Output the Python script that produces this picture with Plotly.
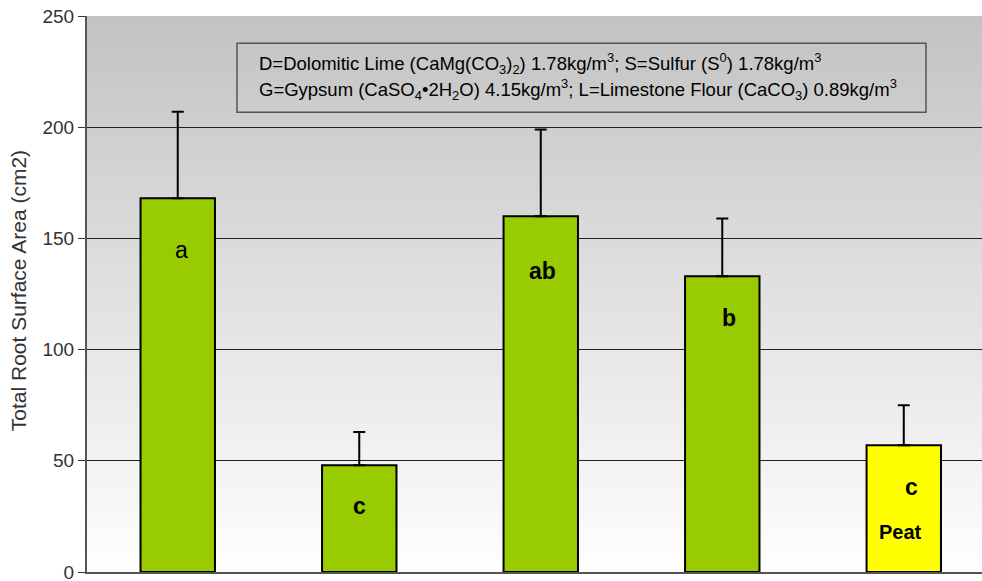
import plotly.graph_objects as go

categories = ["D", "S", "G", "L", "Peat"]
means = [168, 48, 160, 133, 57]
err_up = [39, 15, 39, 26, 18]
letters = ["a", "c", "ab", "b", "c"]
bar_colors = ["#99cc00", "#99cc00", "#99cc00", "#99cc00", "#ffff00"]
y_ticks = [0, 50, 100, 150, 200, 250]

FONT = "Liberation Sans, Arial"

fig = go.Figure()
fig.add_trace(go.Bar(
    x=categories, y=means, width=0.41,
    marker=dict(color=bar_colors, line=dict(color="#000000", width=2)),
    error_y=dict(type="data", array=err_up, arrayminus=[0]*len(err_up), symmetric=False,
                 color="#000000", thickness=2, width=6),
    showlegend=False, hoverinfo="skip",
))

# background gradient bands (grey at top fading to white at bottom)
n = 60
top = (194, 194, 194)
for i in range(n):
    c = tuple(int(round(top[k] + (255 - top[k]) * (1 - (i + 0.5) / n))) for k in range(3))
    fig.add_shape(type="rect", xref="paper", yref="paper", x0=0, x1=1,
                  y0=i / n, y1=min(1.0, (i + 1.6) / n), fillcolor="rgb(%d,%d,%d)" % c,
                  line=dict(width=0), layer="below")

# letter annotations
label_y = [145, 29.5, 135.5, 114, 38]
label_dx = [4, 0, 2, 7, 8]
bold = [False, True, True, True, True]
for i, (cat, lt) in enumerate(zip(categories, letters)):
    txt = "<b>%s</b>" % lt if bold[i] else lt
    fig.add_annotation(x=cat, y=label_y[i], text=txt, showarrow=False, xshift=label_dx[i],
                       font=dict(family=FONT, size=23, color="#000000"))
fig.add_annotation(x="Peat", y=17.8, text="<b>Peat</b>", showarrow=False, xshift=-3,
                   font=dict(family=FONT, size=20, color="#000000"))

# text box
fig.add_shape(type="rect", xref="paper", yref="y", x0=0.1676, x1=0.9374, y0=206.7, y1=237.7,
              fillcolor="rgba(0,0,0,0)", line=dict(color="#555555", width=1.5), layer="above")
line1 = "D=Dolomitic Lime (CaMg(CO<sub>3</sub>)<sub>2</sub>) 1.78kg/m<sup>3</sup>; S=Sulfur (S<sup>0</sup>) 1.78kg/m<sup>3</sup>"
line2 = "G=Gypsum (CaSO<sub>4</sub>•2H<sub>2</sub>O) 4.15kg/m<sup>3</sup>; L=Limestone Flour (CaCO<sub>3</sub>) 0.89kg/m<sup>3</sup>"
fig.add_annotation(xref="paper", yref="y", x=0.1905, y=228.8, text=line1, showarrow=False,
                   xanchor="left", yanchor="middle",
                   font=dict(family=FONT, size=18.5, color="#000000"))
fig.add_annotation(xref="paper", yref="y", x=0.1905, y=217, text=line2, showarrow=False,
                   xanchor="left", yanchor="middle",
                   font=dict(family=FONT, size=18.5, color="#000000"))

# y-axis title
fig.add_annotation(xref="paper", yref="y", x=-0.0771, y=126.7, text="Total Root Surface Area (cm2)",
                   textangle=-90, showarrow=False, xanchor="center", yanchor="middle",
                   font=dict(family=FONT, size=21, color="#333333"))

fig.update_layout(
    width=982, height=595,
    margin=dict(l=87, r=0, t=16, b=23),
    paper_bgcolor="#ffffff", plot_bgcolor="rgba(0,0,0,0)",
    font=dict(family=FONT, size=16, color="#333333"),
)
fig.update_xaxes(range=[-0.5, 4.431], showticklabels=False, showgrid=False, automargin=False,
                 showline=True, linecolor="#555555", linewidth=2, ticks="", zeroline=False)
fig.update_yaxes(range=[0, 250], tickvals=y_ticks, showgrid=True, gridcolor="#222222", gridwidth=1,
                 automargin=False, showline=True, linecolor="#555555", linewidth=2,
                 ticks="outside", ticklen=7, tickcolor="#333333", zeroline=False,
                 tickfont=dict(family=FONT, size=19, color="#333333"))

fig.write_html("out.html", config={"displayModeBar": False},
               post_script="document.body.style.margin='0px';document.body.style.overflow='hidden';")
